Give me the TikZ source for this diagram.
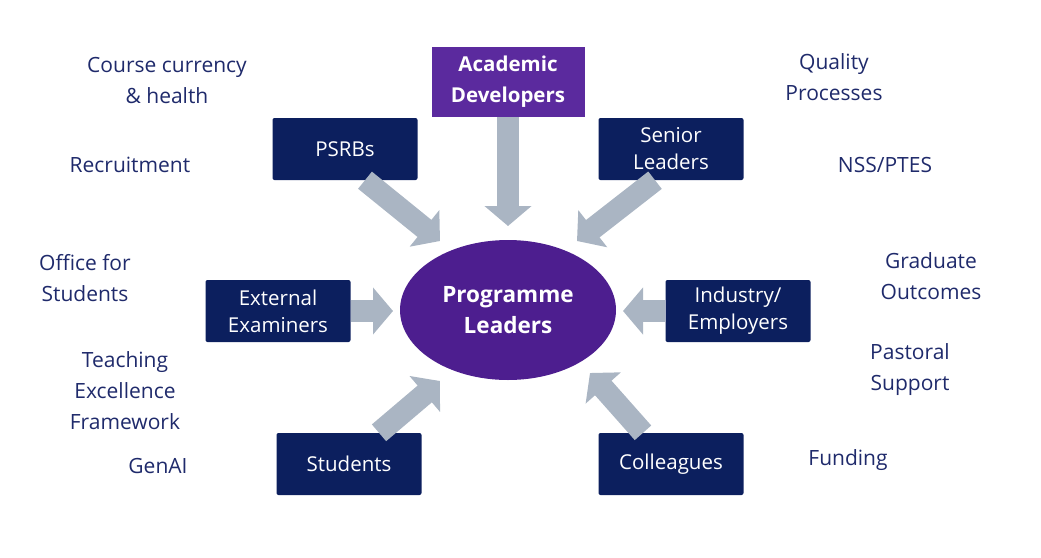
\documentclass[tikz,border=0pt]{standalone}
\usepackage{fontspec}
\setmainfont{Open Sans}
\usetikzlibrary{arrows.meta,shapes.geometric}
\definecolor{navy}{HTML}{0C1F5E}
\definecolor{purp}{HTML}{4D1E8F}
\definecolor{purpb}{HTML}{5B2A9E}
\definecolor{txt}{HTML}{1F2A6B}
\definecolor{arr}{HTML}{AAB5C3}
\begin{document}
\begin{tikzpicture}[x=1pt,y=-1pt,
 box/.style={fill=navy,text=white,minimum width=145pt,minimum height=62pt,inner sep=0pt,align=center,font=\fontsize{20.5}{27}\selectfont,rounded corners=2pt},
 lab/.style={text=txt,align=center,font=\fontsize{21}{31}\selectfont},
 blk/.style={draw=arr,line width=22pt,-{Triangle[length=20pt,width=46pt]}}]
\useasboundingbox (0,0) rectangle (1041,557);
\node[ellipse,fill=purp,minimum width=216pt,minimum height=140pt,text=white,align=center,font=\bfseries\fontsize{22.5}{31}\selectfont] (pl) at (508,310) {Programme\\Leaders};
\node[box,fill=purpb,minimum width=153pt,minimum height=70pt,rounded corners=0pt,font=\bfseries\fontsize{20.5}{31}\selectfont] (ad) at (508,82) {Academic\\Developers};
\node[box] (ps) at (345,149) {PSRBs};
\node[box] (sl) at (671,149) {Senior\\Leaders};
\node[box] (ee) at (278,311) {External\\Examiners};
\node[box] (ie) at (738,311) {Industry/\\Employers};
\node[box] (st) at (349,464) {Students};
\node[box] (co) at (671,464) {Colleagues};
\coordinate (a1) at (508,226);
\coordinate (a2) at (440,241);
\coordinate (a3) at (577,241);
\coordinate (a4) at (393,311);
\coordinate (a5) at (623,311);
\coordinate (a6) at (440,381);
\coordinate (a7) at (590,373);
\draw[blk] (ad.south) -- (a1);
\draw[blk] ([xshift=20pt]ps.south) -- (a2);
\draw[blk] ([xshift=-16pt]sl.south) -- (a3);
\draw[blk] (ee.east) -- (a4);
\draw[blk] (ie.west) -- (a5);
\draw[blk] ([xshift=30pt]st.north) -- (a6);
\draw[blk] ([xshift=-28pt]co.north) -- (a7);
\node[lab] (t1) at (167,80) {Course currency\\\& health};
\node[lab] (t2) at (130,165) {Recruitment};
\node[lab] (t3) at (85,278) {Office for\\Students};
\node[lab] (t4) at (125,391) {Teaching\\Excellence\\Framework};
\node[lab] (t5) at (158,466) {GenAI};
\node[lab] (t6) at (834,77) {Quality\\Processes};
\node[lab] (t7) at (885,165) {NSS/PTES};
\node[lab] (t8) at (931,276) {Graduate\\Outcomes};
\node[lab] (t9) at (910,370) {Pastoral\\Support};
\node[lab] (t10) at (848,460) {Funding};
\end{tikzpicture}
\end{document}
